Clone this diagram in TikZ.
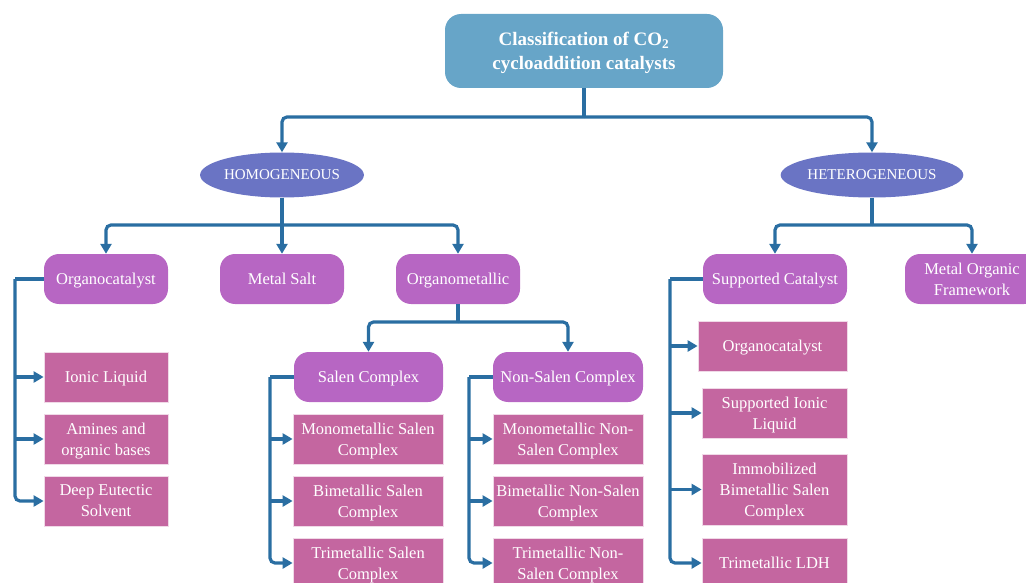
\documentclass[tikz,border=0pt]{standalone}
\usepackage{fontspec}
\setmainfont{Liberation Serif}
\usetikzlibrary{arrows.meta,shapes.geometric}
\definecolor{topc}{HTML}{67A5C8}
\definecolor{ellc}{HTML}{6A74C4}
\definecolor{rndc}{HTML}{B766C3}
\definecolor{recc}{HTML}{C466A0}
\definecolor{linec}{HTML}{2A6EA2}
\begin{document}
\begin{tikzpicture}[x=1pt,y=-1pt,
 conn/.style={draw=linec,line width=3.2pt,rounded corners=5pt,-{Triangle[length=10pt,width=11pt]}},
 wire/.style={draw=linec,line width=3.2pt,rounded corners=5pt},
 topbox/.style={fill=topc,rounded corners=16pt,text=white,font=\fontsize{19}{24}\selectfont\bfseries,align=center,inner sep=0pt,minimum width=278pt,minimum height=74pt,text depth=0pt},
 ell/.style={ellipse,fill=ellc,text=white,font=\fontsize{15}{16}\selectfont,inner sep=0pt,minimum width=156pt,minimum height=45pt},
 rnd/.style={fill=rndc,rounded corners=15pt,text=white,font=\fontsize{16.5}{21}\selectfont,align=center,inner sep=0pt,minimum height=50pt,text depth=0pt},
 rec/.style={fill=recc,draw=white!75!recc,line width=0.8pt,text=white,font=\fontsize{16.5}{21}\selectfont,align=center,inner sep=0pt,minimum height=50pt,text depth=0pt},
]
\useasboundingbox (0,0) rectangle (1026,583);
\clip (0,0) rectangle (1026,583);

% nodes
\node[topbox] (top) at (584,51) {Classification of CO\textsubscript{2}\\cycloaddition catalysts};
\node[ell] (homo) at (282,175) {HOMOGENEOUS};
\node[ell] (hetero) at (872,175) {HETEROGENEOUS};

\node[rnd,minimum width=124pt] (org) at (106,279) {Organocatalyst};
\node[rnd,minimum width=124pt] (salt) at (282,279) {Metal Salt};
\node[rnd,minimum width=124pt] (ometal) at (458,279) {Organometallic};
\node[rnd,minimum width=144pt] (supp) at (775,279) {Supported Catalyst};
\node[rnd,minimum width=134pt] (mof) at (972,279) {Metal Organic\\Framework};

\node[rec,minimum width=124pt] (il) at (106,377) {Ionic Liquid};
\node[rec,minimum width=124pt] (am) at (106,439) {Amines and\\organic bases};
\node[rec,minimum width=124pt] (des) at (106,501) {Deep Eutectic\\Solvent};

\node[rnd,minimum width=149pt] (salen) at (368.5,377) {Salen Complex};
\node[rnd,minimum width=150pt] (nsalen) at (568,377) {Non-Salen Complex};

\node[rec,minimum width=150pt] (ms) at (368,439) {Monometallic Salen\\Complex};
\node[rec,minimum width=150pt] (bs) at (368,501) {Bimetallic Salen\\Complex};
\node[rec,minimum width=150pt] (ts) at (368,563) {Trimetallic Salen\\Complex};

\node[rec,minimum width=150pt] (mns) at (568,439) {Monometallic Non-\\Salen Complex};
\node[rec,minimum width=150pt] (bns) at (568,501) {Bimetallic Non-Salen\\Complex};
\node[rec,minimum width=150pt] (tns) at (568,563) {Trimetallic Non-\\Salen Complex};

\node[rec,minimum width=149pt] (so) at (772.5,346) {Organocatalyst};
\node[rec,minimum width=145pt] (sil) at (774.5,413) {Supported Ionic\\Liquid};
\node[rec,minimum width=145pt,minimum height=71pt] (ib) at (774.5,489.5) {Immobilized\\Bimetallic Salen\\Complex};
\node[rec,minimum width=145pt] (ldh) at (774.5,563) {Trimetallic LDH};

% connectors
\coordinate (j0) at (584,117);
\draw[wire] (top.south) -- (j0);
\draw[conn] (j0) -| (homo.north);
\draw[conn] (j0) -| (hetero.north);

\coordinate (j1) at (282,225);
\draw[wire] (homo.south) -- (j1);
\draw[conn] (j1) -| (org.north);
\draw[conn] (j1) -| (ometal.north);
\draw[conn] (homo.south) -- (salt.north);

\coordinate (j2) at (872,225);
\draw[wire] (hetero.south) -- (j2);
\draw[conn] (j2) -| (supp.north);
\draw[conn] (j2) -| (mof.north);

\coordinate (s1) at (15,279);
\draw[wire] (org.west) -- (s1);
\draw[conn] (s1) |- (des.west);
\draw[conn] (s1 |- il.west) -- (il.west);
\draw[conn] (s1 |- am.west) -- (am.west);

\coordinate (j3) at (458,322);
\draw[wire] (ometal.south) -- (j3);
\draw[conn] (j3) -| (salen.north);
\draw[conn] (j3) -| (nsalen.north);

\coordinate (s2) at (270,377);
\draw[wire] (salen.west) -- (s2);
\draw[conn] (s2) |- (ts.west);
\draw[conn] (s2 |- ms.west) -- (ms.west);
\draw[conn] (s2 |- bs.west) -- (bs.west);

\coordinate (s3) at (469,377);
\draw[wire] (nsalen.west) -- (s3);
\draw[conn] (s3) |- (tns.west);
\draw[conn] (s3 |- mns.west) -- (mns.west);
\draw[conn] (s3 |- bns.west) -- (bns.west);

\coordinate (s4) at (670,279);
\draw[wire] (supp.west) -- (s4);
\draw[conn] (s4) |- (ldh.west);
\draw[conn] (s4 |- so.west) -- (so.west);
\draw[conn] (s4 |- sil.west) -- (sil.west);
\draw[conn] (s4 |- ib.west) -- (ib.west);
\end{tikzpicture}
\end{document}
